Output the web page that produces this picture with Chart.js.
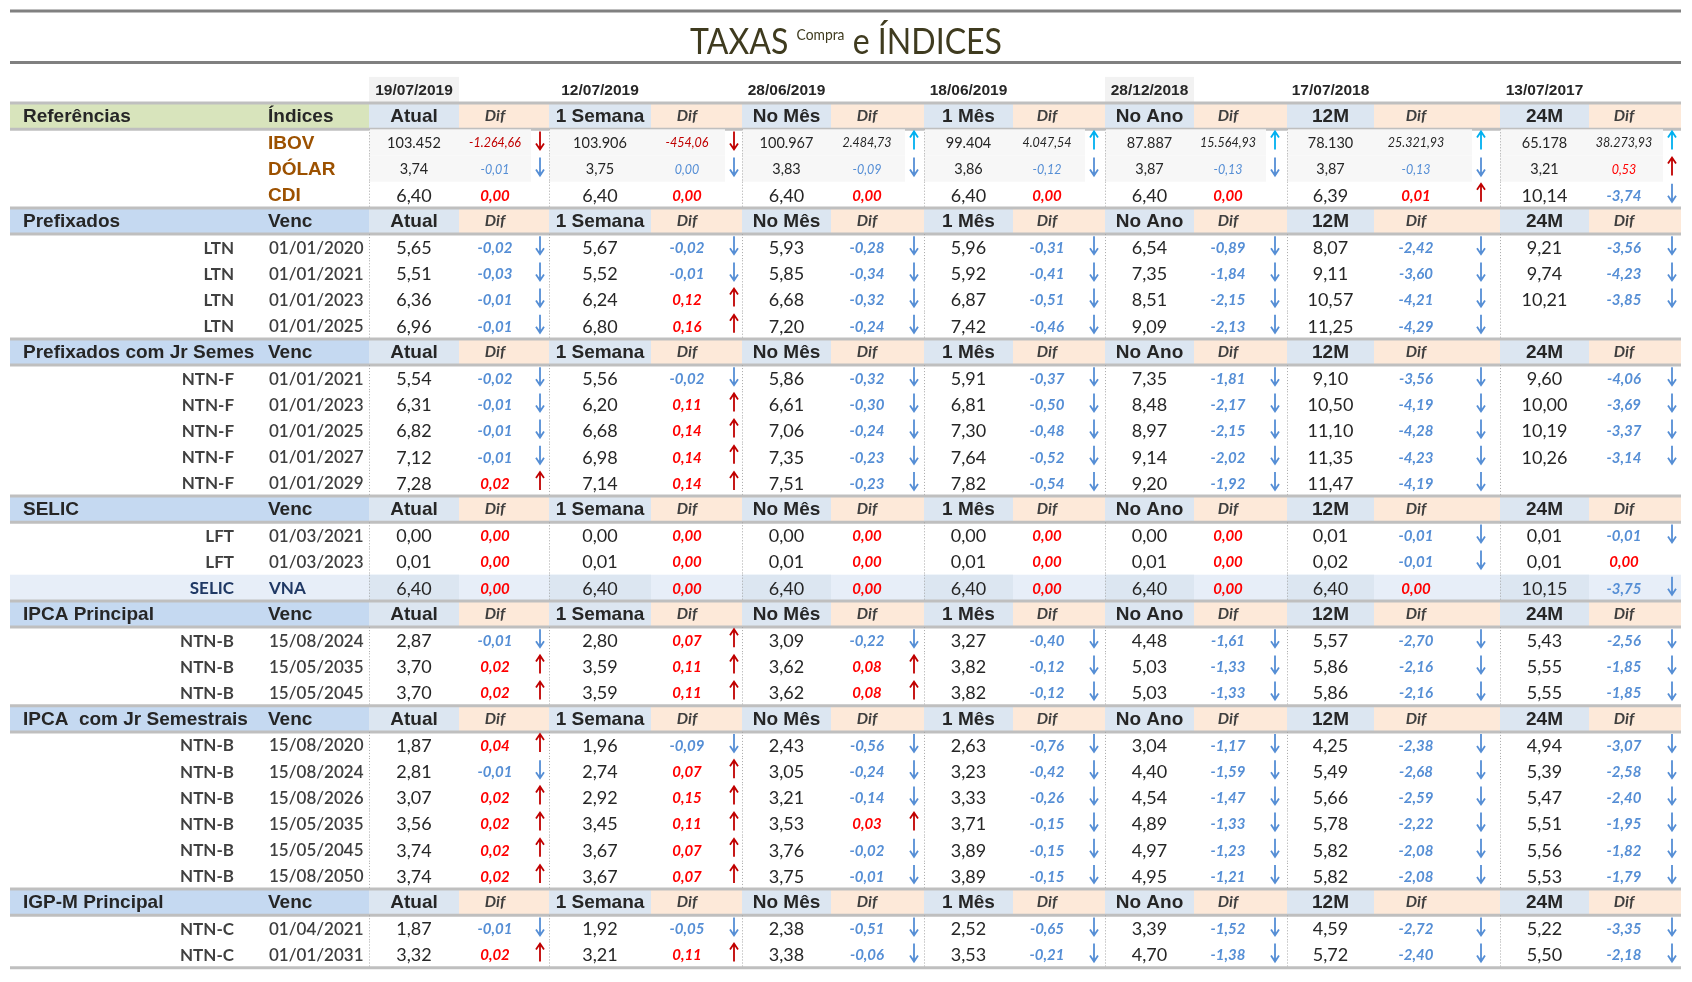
<!DOCTYPE html>
<html lang="pt-BR">
<head>
<meta charset="utf-8">
<title>Taxas Compra e Índices</title>
<script src="https://cdn.jsdelivr.net/npm/chart.js@4.4.1/dist/chart.umd.min.js"></script>
<style>
html, body { margin: 0; padding: 0; background: #fff; }
#quadro { position: relative; width: 1692px; height: 982px; }
</style>
</head>
<body>
<div id="quadro"><canvas id="tabela"></canvas></div>
<script>
// Datas e períodos de cada coluna
const datas = ['19/07/2019', '12/07/2019', '28/06/2019', '18/06/2019', '28/12/2018', '17/07/2018', '13/07/2017'];
const periodos = ['Atual', '1 Semana', 'No Mês', '1 Mês', 'No Ano', '12M', '24M'];

// Referências
const indices = ['IBOV', 'DÓLAR', 'CDI'];
const ibov = [103452, 103906, 100967, 99404, 87887, 78130, 65178];
const ibovDif = [-1264.66, -454.06, 2484.73, 4047.54, 15564.93, 25321.93, 38273.93];
const dolar = [3.74, 3.75, 3.83, 3.86, 3.87, 3.87, 3.21];
const dolarDif = [-0.01, -0.004, -0.09, -0.12, -0.13, -0.13, 0.53];
const cdi = [6.40, 6.40, 6.40, 6.40, 6.40, 6.39, 10.14];
const cdiDif = [0, 0, 0, 0, 0, 0.01, -3.74];

// Títulos das seções
const titulosSecao = ['Prefixados', 'Prefixados com Jr Semes', 'SELIC', 'IPCA Principal', 'IPCA  com Jr Semestrais', 'IGP-M Principal'];

// Prefixados (LTN)
const ltnNomes = ['LTN', 'LTN', 'LTN', 'LTN'];
const ltnVenc = ['01/01/2020', '01/01/2021', '01/01/2023', '01/01/2025'];
const ltnTaxas = [
    [5.65, 5.67, 5.93, 5.96, 6.54, 8.07, 9.21],
    [5.51, 5.52, 5.85, 5.92, 7.35, 9.11, 9.74],
    [6.36, 6.24, 6.68, 6.87, 8.51, 10.57, 10.21],
    [6.96, 6.80, 7.20, 7.42, 9.09, 11.25, null]
];
const ltnDif = [
    [-0.02, -0.02, -0.28, -0.31, -0.89, -2.42, -3.56],
    [-0.03, -0.01, -0.34, -0.41, -1.84, -3.60, -4.23],
    [-0.01, 0.12, -0.32, -0.51, -2.15, -4.21, -3.85],
    [-0.01, 0.16, -0.24, -0.46, -2.13, -4.29, null]
];

// Prefixados com juros semestrais (NTN-F)
const ntnfNomes = ['NTN-F', 'NTN-F', 'NTN-F', 'NTN-F', 'NTN-F'];
const ntnfVenc = ['01/01/2021', '01/01/2023', '01/01/2025', '01/01/2027', '01/01/2029'];
const ntnfTaxas = [
    [5.54, 5.56, 5.86, 5.91, 7.35, 9.10, 9.60],
    [6.31, 6.20, 6.61, 6.81, 8.48, 10.50, 10.00],
    [6.82, 6.68, 7.06, 7.30, 8.97, 11.10, 10.19],
    [7.12, 6.98, 7.35, 7.64, 9.14, 11.35, 10.26],
    [7.28, 7.14, 7.51, 7.82, 9.20, 11.47, null]
];
const ntnfDif = [
    [-0.02, -0.02, -0.32, -0.37, -1.81, -3.56, -4.06],
    [-0.01, 0.11, -0.30, -0.50, -2.17, -4.19, -3.69],
    [-0.01, 0.14, -0.24, -0.48, -2.15, -4.28, -3.37],
    [-0.01, 0.14, -0.23, -0.52, -2.02, -4.23, -3.14],
    [0.02, 0.14, -0.23, -0.54, -1.92, -4.19, null]
];

// SELIC (LFT e VNA)
const selicNomes = ['LFT', 'LFT', 'SELIC'];
const selicVenc = ['01/03/2021', '01/03/2023', 'VNA'];
const selicTaxas = [
    [0.00, 0.00, 0.00, 0.00, 0.00, 0.01, 0.01],
    [0.01, 0.01, 0.01, 0.01, 0.01, 0.02, 0.01],
    [6.40, 6.40, 6.40, 6.40, 6.40, 6.40, 10.15]
];
const selicDif = [
    [0, 0, 0, 0, 0, -0.01, -0.01],
    [0, 0, 0, 0, 0, -0.01, 0],
    [0, 0, 0, 0, 0, 0, -3.75]
];

// IPCA principal (NTN-B)
const ntnbpNomes = ['NTN-B', 'NTN-B', 'NTN-B'];
const ntnbpVenc = ['15/08/2024', '15/05/2035', '15/05/2045'];
const ntnbpTaxas = [
    [2.87, 2.80, 3.09, 3.27, 4.48, 5.57, 5.43],
    [3.70, 3.59, 3.62, 3.82, 5.03, 5.86, 5.55],
    [3.70, 3.59, 3.62, 3.82, 5.03, 5.86, 5.55]
];
const ntnbpDif = [
    [-0.01, 0.07, -0.22, -0.40, -1.61, -2.70, -2.56],
    [0.02, 0.11, 0.08, -0.12, -1.33, -2.16, -1.85],
    [0.02, 0.11, 0.08, -0.12, -1.33, -2.16, -1.85]
];

// IPCA com juros semestrais (NTN-B)
const ntnbNomes = ['NTN-B', 'NTN-B', 'NTN-B', 'NTN-B', 'NTN-B', 'NTN-B'];
const ntnbVenc = ['15/08/2020', '15/08/2024', '15/08/2026', '15/05/2035', '15/05/2045', '15/08/2050'];
const ntnbTaxas = [
    [1.87, 1.96, 2.43, 2.63, 3.04, 4.25, 4.94],
    [2.81, 2.74, 3.05, 3.23, 4.40, 5.49, 5.39],
    [3.07, 2.92, 3.21, 3.33, 4.54, 5.66, 5.47],
    [3.56, 3.45, 3.53, 3.71, 4.89, 5.78, 5.51],
    [3.74, 3.67, 3.76, 3.89, 4.97, 5.82, 5.56],
    [3.74, 3.67, 3.75, 3.89, 4.95, 5.82, 5.53]
];
const ntnbDif = [
    [0.04, -0.09, -0.56, -0.76, -1.17, -2.38, -3.07],
    [-0.01, 0.07, -0.24, -0.42, -1.59, -2.68, -2.58],
    [0.02, 0.15, -0.14, -0.26, -1.47, -2.59, -2.40],
    [0.02, 0.11, 0.03, -0.15, -1.33, -2.22, -1.95],
    [0.02, 0.07, -0.02, -0.15, -1.23, -2.08, -1.82],
    [0.02, 0.07, -0.01, -0.15, -1.21, -2.08, -1.79]
];

// IGP-M principal (NTN-C)
const ntncNomes = ['NTN-C', 'NTN-C'];
const ntncVenc = ['01/04/2021', '01/01/2031'];
const ntncTaxas = [
    [1.87, 1.92, 2.38, 2.52, 3.39, 4.59, 5.22],
    [3.32, 3.21, 3.38, 3.53, 4.70, 5.72, 5.50]
];
const ntncDif = [
    [-0.01, -0.05, -0.51, -0.65, -1.52, -2.72, -3.35],
    [0.02, 0.11, -0.06, -0.21, -1.38, -2.40, -2.18]
];

// ---- Layout (unidades das escalas) ----
const bordas = [10, 264, 369, 459, 549, 651, 742, 831, 924, 1013, 1105, 1194, 1287, 1374, 1500, 1589, 1681];
const difTextoX = [495, 687, 867, 1047, 1228, 1416, 1624];
const setaX = [540, 734, 914, 1094, 1275, 1481, 1672];
const PASSO = 26.2;
const Y_MIN = -90 / PASSO;
const Y_MAX = (982 - 90) / PASSO;

const COR = {
    texto: '#262626', cinza: '#404040', verde: '#d8e4bc', azulSec: '#c5d9f1',
    azulClaro: '#dce6f1', pessego: '#fde9d9', data: '#f2f2f2', linha: '#bfbfbf',
    azul: '#558ed5', vermelho: '#ff0000', vermelhoEsc: '#c00000', ciano: '#00b0f0',
    marrom: '#9c5100', titulo: '#3f3b1f', vna: '#e7eef8', vnaTexto: '#1f3864'
};
const ARIAL = "'Liberation Sans', Arial, sans-serif";
const CALIBRI = "Lato, 'Open Sans', sans-serif";

// Montagem das linhas da tabela
const linhas = [{ tipo: 'datas' }, { tipo: 'cab', titulo: 'Referências', sub: 'Índices', verde: true }];
linhas.push({ tipo: 'ref', nome: indices[0], taxas: ibov, difs: ibovDif, dec: 0 });
linhas.push({ tipo: 'ref', nome: indices[1], taxas: dolar, difs: dolarDif, dec: 2 });
linhas.push({ tipo: 'ref', nome: indices[2], taxas: cdi, difs: cdiDif, dec: 2 });

const secoes = [
    [ltnNomes, ltnVenc, ltnTaxas, ltnDif],
    [ntnfNomes, ntnfVenc, ntnfTaxas, ntnfDif],
    [selicNomes, selicVenc, selicTaxas, selicDif],
    [ntnbpNomes, ntnbpVenc, ntnbpTaxas, ntnbpDif],
    [ntnbNomes, ntnbVenc, ntnbTaxas, ntnbDif],
    [ntncNomes, ntncVenc, ntncTaxas, ntncDif]
];
secoes.forEach(([nomes, venc, taxas, difs], s) => {
    linhas.push({ tipo: 'cab', titulo: titulosSecao[s], sub: 'Venc' });
    nomes.forEach((n, i) => linhas.push({ tipo: 'titulo', nome: n, venc: venc[i], taxas: taxas[i], difs: difs[i], dec: 2 }));
});

// Formatação brasileira
function fmt(v, dec) {
    const abs = Math.abs(v).toFixed(dec);
    const [int, frac] = abs.split('.');
    const milhar = int.replace(/\B(?=(\d{3})+(?!\d))/g, '.');
    const neg = v < 0 && Number(abs) !== 0;
    return (neg ? '-' : '') + milhar + (frac ? ',' + frac : '');
}

function seta(ctx, x, y, sobe, cor) {
    const topo = y - 11, base = y + 7;
    ctx.save();
    ctx.strokeStyle = cor;
    ctx.lineWidth = 1.8;
    ctx.beginPath();
    ctx.moveTo(x, topo);
    ctx.lineTo(x, base);
    if (sobe) {
        ctx.moveTo(x - 4, topo + 6); ctx.lineTo(x, topo); ctx.lineTo(x + 4, topo + 6);
    } else {
        ctx.moveTo(x - 4, base - 6); ctx.lineTo(x, base); ctx.lineTo(x + 4, base - 6);
    }
    ctx.stroke();
    ctx.restore();
}

function texto(ctx, t, x, y, fonte, cor, alinh) {
    ctx.font = fonte;
    ctx.fillStyle = cor;
    ctx.textAlign = alinh || 'center';
    ctx.textBaseline = 'middle';
    ctx.fillText(t, x, y);
}

const tabelaPlugin = {
    id: 'tabela',
    afterDatasetsDraw(chart) {
        const ctx = chart.ctx;
        const X = v => chart.scales.x.getPixelForValue(v);
        const Y = v => chart.scales.y.getPixelForValue(v);
        const esq = X(bordas[0]), dir = X(bordas[bordas.length - 1]);
        const faixa = (x0, x1, r, cor) => {
            ctx.fillStyle = cor;
            ctx.fillRect(X(x0), Y(r - 0.5), X(x1) - X(x0), Y(r + 0.5) - Y(r - 0.5));
        };
        const regua = (r, cor, w) => {
            ctx.save();
            ctx.strokeStyle = cor; ctx.lineWidth = w;
            ctx.beginPath(); ctx.moveTo(esq, Y(r)); ctx.lineTo(dir, Y(r)); ctx.stroke();
            ctx.restore();
        };
        ctx.save();

        // Título
        const yt = Y(-1.87);
        const partes = [['TAXAS ', 37, 0], ['Compra', 16, -14], [' e ÍNDICES', 37, 0]];
        let larg = 0;
        partes.forEach(p => { ctx.font = p[1] + 'px ' + CALIBRI; p.push(ctx.measureText(p[0]).width); larg += p[3]; });
        const sx = (X(1002) - X(690)) / larg;
        ctx.save();
        ctx.translate(X(846) - larg * sx / 2, yt);
        ctx.scale(sx, 1);
        let cx = 0;
        partes.forEach(p => {
            ctx.font = p[1] + 'px ' + CALIBRI;
            ctx.fillStyle = COR.titulo;
            ctx.textAlign = 'left';
            ctx.textBaseline = 'alphabetic';
            ctx.fillText(p[0], cx, 13 + p[2]);
            cx += p[3];
        });
        ctx.restore();
        regua(-3.02, '#808080', 3);
        regua(-1.05, '#808080', 3);

        linhas.forEach((ln, r) => {
            const yc = Y(r);
            if (ln.tipo === 'datas') {
                datas.forEach((d, k) => {
                    const x0 = bordas[2 + 2 * k], x1 = bordas[3 + 2 * k];
                    if (k === 0 || k === 4) faixa(x0, x1, r, COR.data);
                    texto(ctx, d, X((x0 + x1) / 2), yc + 1, 'bold 15.5px ' + ARIAL, COR.texto);
                });
                return;
            }
            if (ln.tipo === 'cab') {
                faixa(bordas[0], bordas[2], r, ln.verde ? COR.verde : COR.azulSec);
                periodos.forEach((p, k) => {
                    faixa(bordas[2 + 2 * k], bordas[3 + 2 * k], r, COR.azulClaro);
                    faixa(bordas[3 + 2 * k], bordas[4 + 2 * k], r, COR.pessego);
                    texto(ctx, p, X((bordas[2 + 2 * k] + bordas[3 + 2 * k]) / 2), yc + 1, 'bold 19px ' + ARIAL, COR.texto);
                    texto(ctx, 'Dif', X(difTextoX[k]), yc, 'italic bold 16px ' + CALIBRI, '#3f3f3f');
                });
                texto(ctx, ln.titulo, X(bordas[0] + 13), yc + 1, 'bold 19px ' + ARIAL, COR.texto, 'left');
                texto(ctx, ln.sub, X(bordas[1] + 4), yc + 1, 'bold 19px ' + ARIAL, COR.texto, 'left');
                regua(r - 0.5, COR.linha, 3);
                regua(r + 0.5, COR.linha, 3);
                return;
            }

            const ehRef = ln.tipo === 'ref';
            const pequeno = ehRef && ln.nome !== 'CDI';
            const ehVna = ln.venc === 'VNA';
            if (ehVna) faixa(bordas[0], bordas[16], r, COR.vna);
            periodos.forEach((p, k) => {
                if (ehVna) faixa(bordas[2 + 2 * k], bordas[3 + 2 * k], r, COR.azulClaro);
                if (pequeno) {
                    faixa(bordas[2 + 2 * k], bordas[3 + 2 * k], r, '#f7f7f7');
                    faixa(bordas[3 + 2 * k], setaX[k] - 9, r, '#f7f7f7');
                }
            });

            // separadores pontilhados
            ctx.save();
            ctx.strokeStyle = '#a6a6a6';
            ctx.lineWidth = 1;
            ctx.setLineDash([1, 2]);
            periodos.forEach((p, k) => {
                const xs = Math.round(X(bordas[2 + 2 * k])) + 0.5;
                ctx.beginPath(); ctx.moveTo(xs, Y(r - 0.5)); ctx.lineTo(xs, Y(r + 0.5)); ctx.stroke();
            });
            ctx.restore();

            if (ehRef) {
                texto(ctx, ln.nome, X(bordas[1] + 4), yc + 1, 'bold 19px ' + ARIAL, COR.marrom, 'left');
            } else {
                const corNome = ehVna ? COR.vnaTexto : COR.cinza;
                texto(ctx, ln.nome, X(bordas[1] - 30), yc + 1, 'bold 17px ' + CALIBRI, corNome, 'right');
                texto(ctx, ln.venc, X(bordas[1] + 5), yc + 1, (ehVna ? 'bold ' : '600 ') + '17px ' + CALIBRI, ehVna ? COR.vnaTexto : '#3f3f3f', 'left');
            }

            ln.taxas.forEach((v, k) => {
                if (v === null) return;
                const xc = X((bordas[2 + 2 * k] + bordas[3 + 2 * k]) / 2);
                texto(ctx, fmt(v, ln.dec), xc, yc + 1, (pequeno ? '14.5px ' : '18px ') + CALIBRI, COR.texto);
                const d = ln.difs[k];
                if (d === null) return;
                let corTxt, corSeta;
                if (ln.nome === 'IBOV') {
                    corTxt = d < 0 ? COR.vermelhoEsc : COR.texto;
                    corSeta = d < 0 ? COR.vermelhoEsc : COR.ciano;
                } else {
                    corTxt = d < 0 ? COR.azul : COR.vermelho;
                    corSeta = d < 0 ? COR.azul : COR.vermelhoEsc;
                }
                texto(ctx, fmt(d, 2), X(difTextoX[k]), yc + 1, (pequeno ? 'italic 12.5px ' : 'italic bold 15px ') + CALIBRI, corTxt);
                if (d !== 0) seta(ctx, X(setaX[k]), yc, d > 0, corSeta);
            });
        });
        regua(linhas.length - 0.5, COR.linha, 3);
        ctx.restore();
    }
};

// Um ponto (invisível) por célula de valor, posicionado pelas escalas
const pontos = [];
linhas.forEach((ln, r) => {
    if (!ln.taxas) return;
    ln.taxas.forEach((v, k) => {
        if (v !== null) pontos.push({ x: (bordas[2 + 2 * k] + bordas[3 + 2 * k]) / 2, y: r });
    });
});

new Chart(document.getElementById('tabela'), {
    type: 'scatter',
    data: { datasets: [{ data: pontos, pointRadius: 0, pointHoverRadius: 0 }] },
    options: {
        responsive: true,
        maintainAspectRatio: false,
        animation: false,
        events: [],
        layout: { padding: 0 },
        plugins: { legend: { display: false }, tooltip: { enabled: false } },
        scales: {
            x: { type: 'linear', display: false, min: 0, max: 1692 },
            y: { type: 'linear', display: false, reverse: true, min: Y_MIN, max: Y_MAX }
        }
    },
    plugins: [tabelaPlugin]
});
</script>
</body>
</html>
